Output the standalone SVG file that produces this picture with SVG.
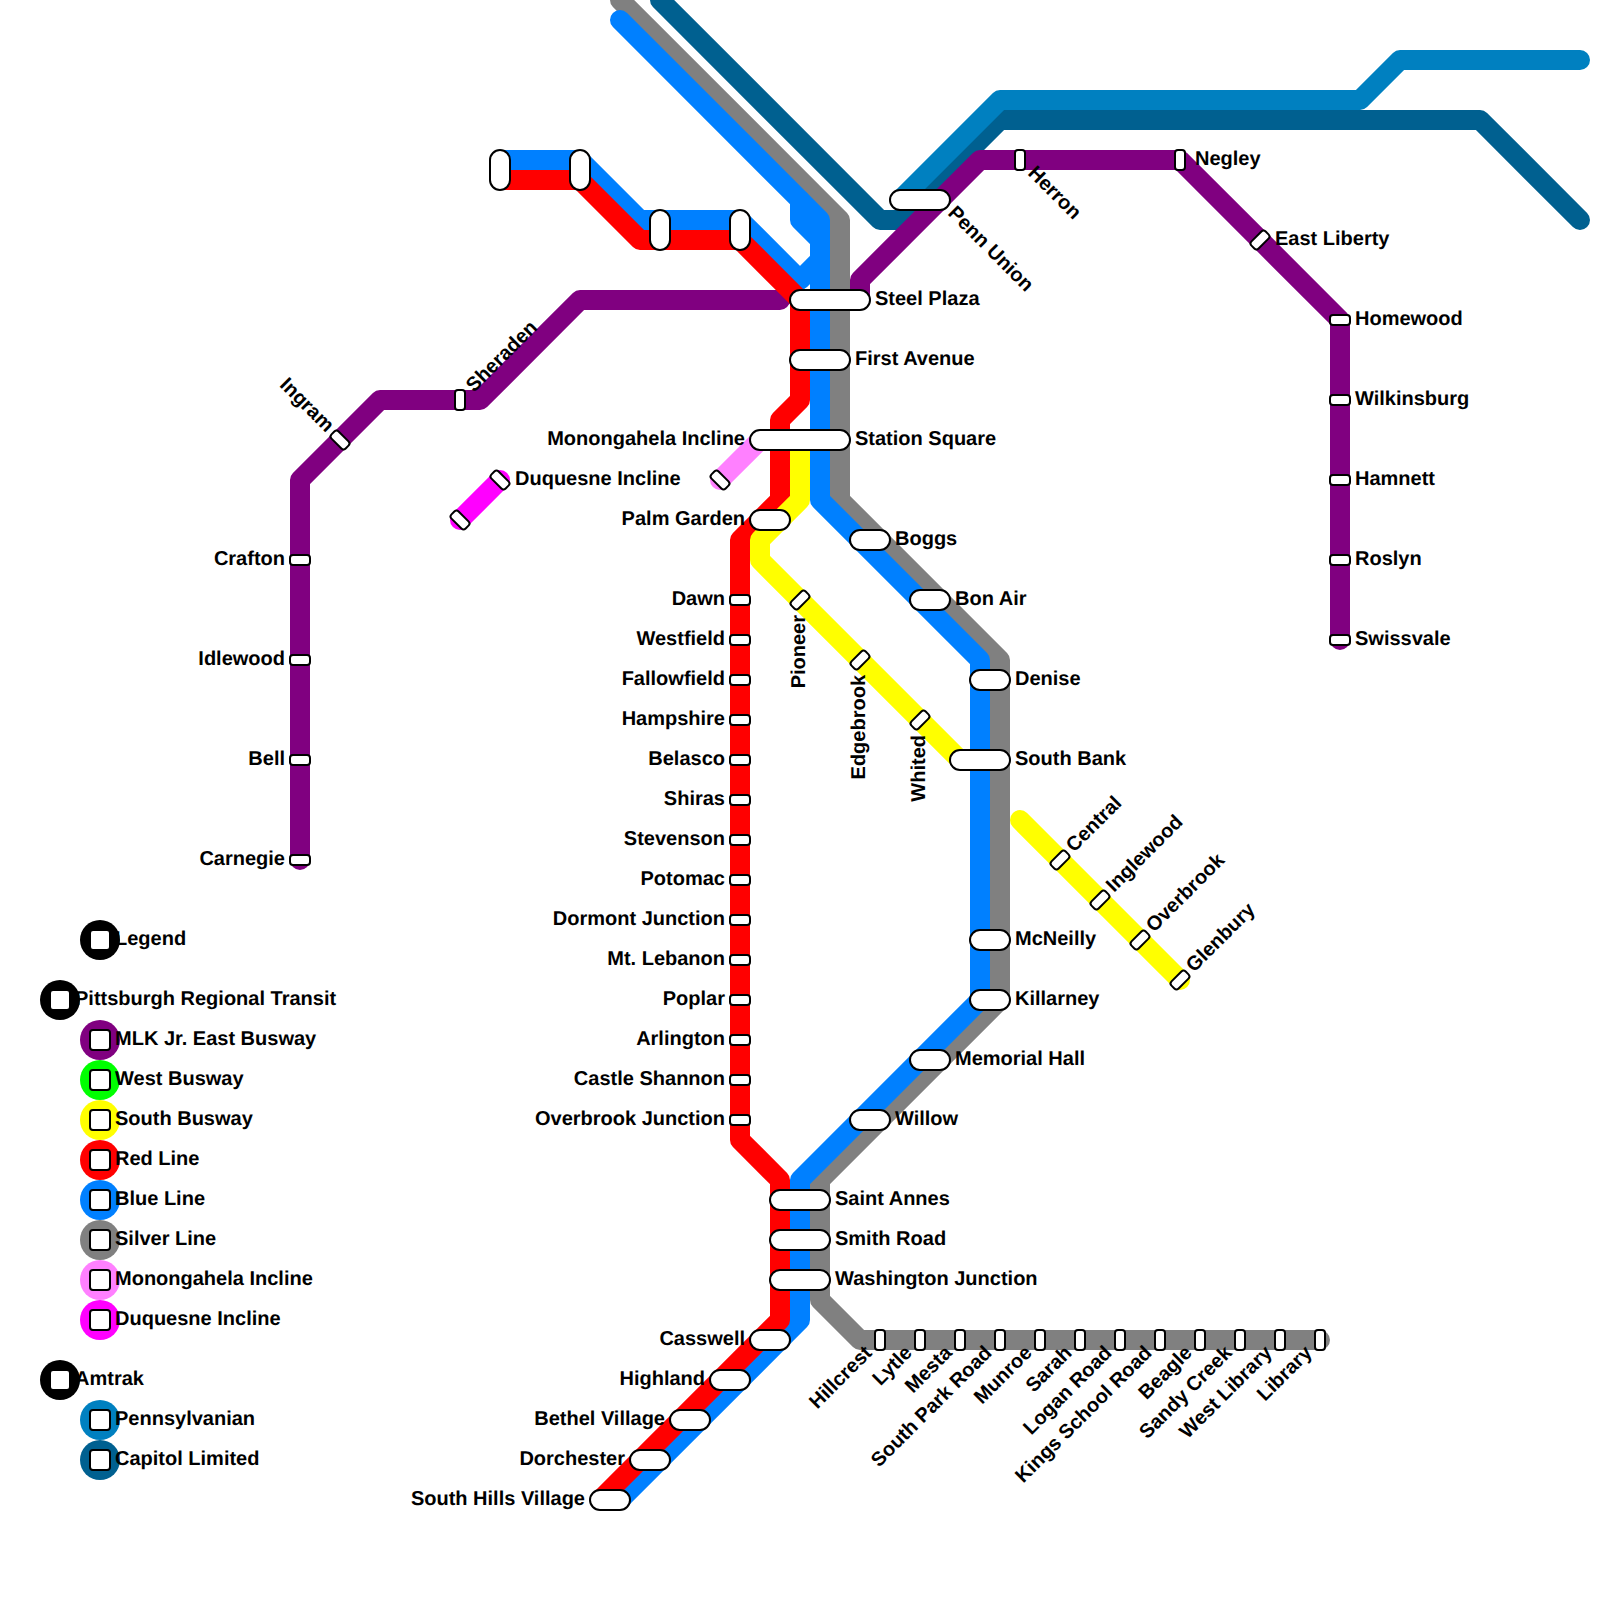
<svg xmlns="http://www.w3.org/2000/svg" width="1600" height="1600" viewBox="0 0 1600 1600">
<style>
text{font-family:"Liberation Sans",Arial,sans-serif;font-size:20px;font-weight:bold;fill:#000;text-rendering:geometricPrecision}
text:not([transform]){transform:translateY(-.5px)}
.e{text-anchor:end}
.l{fill:none;stroke-width:20;stroke-linecap:round;stroke-linejoin:round}
.s{fill:#fff;stroke:#000;stroke-width:2}
.p{fill:#fff;stroke:#000;stroke-width:2}
</style>
<defs>
<rect id="h" class="s" x="-10" y="-5" width="20" height="10" rx="3"/>
<rect id="v" class="s" x="-5" y="-10" width="10" height="20" rx="3"/>
<rect id="k" class="s" x="-10" y="-5" width="20" height="10" rx="3" transform="rotate(45)"/>
<rect id="m" class="s" x="-10" y="-5" width="20" height="10" rx="3" transform="rotate(-45)"/>
<rect id="q" class="s" x="-10" y="-10" width="20" height="20" rx="3"/>
</defs>
<rect width="1600" height="1600" fill="#fff"/>
<g id="connectors">
<polyline class="l" stroke="#006090" points="660,0 880,220 900,220 1000,120 1480,120 1580,220"/>
<polyline class="l" stroke="#808080" points="620,0 840,220 840,500 1000,660 1000,1000 820,1180 820,1300 860,1340 1320,1340"/>
<polyline class="l" stroke="#800080" points="780,300 580,300 480,400 380,400 300,480 300,860"/>
<polyline class="l" stroke="#800080" points="860,300 860,280 980,160 1180,160 1340,320 1340,640"/>
<polyline class="l" stroke="#0080ff" points="620,20 820,220 820,500 980,660 980,1000 800,1180 800,1320 620,1500"/>
<polyline class="l" stroke="#0080ff" points="800,200 800,220 820,240"/>
<polyline class="l" stroke="#0080ff" points="500,160 580,160 640,220 740,220 800,280 820,260"/>
<polyline class="l" stroke="#ff0000" points="500,180 580,180 640,240 740,240 800,300 800,400 780,420 780,500 740,540 740,1140 780,1180 780,1320 600,1500"/>
<polyline class="l" stroke="#ffff00" points="800,440 800,500 760,540 760,560 960,760"/>
<polyline class="l" stroke="#ffff00" points="1020,820 1180,980"/>
<polyline class="l" stroke="#ff80ff" points="720,480 760,440"/>
<polyline class="l" stroke="#ff00ff" points="460,520 500,480"/>
<polyline class="l" stroke="#0080c0" points="1580,60 1400,60 1360,100 1000,100 900,200"/>
</g>
<g id="stations">
<g id="st-top1"><rect class="p" x="490" y="150" width="20" height="40" rx="10"/></g>
<g id="st-top2"><rect class="p" x="570" y="150" width="20" height="40" rx="10"/></g>
<g id="st-top3"><rect class="p" x="650" y="210" width="20" height="40" rx="10"/></g>
<g id="st-top4"><rect class="p" x="730" y="210" width="20" height="40" rx="10"/></g>
<g id="st-penn-union"><rect class="p" x="890" y="190" width="60" height="20" rx="10"/><text transform="translate(947,214) rotate(45)">Penn Union</text></g>
<g id="st-herron"><use href="#v" x="1020" y="160"/><text transform="translate(1027,174) rotate(45)">Herron</text></g>
<g id="st-negley"><use href="#v" x="1180" y="160"/><text x="1195" y="165">Negley</text></g>
<g id="st-east-liberty"><use href="#m" x="1260" y="240"/><text x="1275" y="245">East Liberty</text></g>
<g id="st-homewood"><use href="#h" x="1340" y="320"/><text x="1355" y="325">Homewood</text></g>
<g id="st-wilkinsburg"><use href="#h" x="1340" y="400"/><text x="1355" y="405">Wilkinsburg</text></g>
<g id="st-hamnett"><use href="#h" x="1340" y="480"/><text x="1355" y="485">Hamnett</text></g>
<g id="st-roslyn"><use href="#h" x="1340" y="560"/><text x="1355" y="565">Roslyn</text></g>
<g id="st-swissvale"><use href="#h" x="1340" y="640"/><text x="1355" y="645">Swissvale</text></g>
<g id="st-steel-plaza"><rect class="p" x="790" y="290" width="80" height="20" rx="10"/><text x="875" y="305">Steel Plaza</text></g>
<g id="st-first-avenue"><rect class="p" x="790" y="350" width="60" height="20" rx="10"/><text x="855" y="365">First Avenue</text></g>
<g id="st-station-square"><rect class="p" x="750" y="430" width="100" height="20" rx="10"/><text x="855" y="445">Station Square</text><text class="e" x="745" y="445">Monongahela Incline</text></g>
<g id="st-mon-lower"><use href="#k" x="720" y="480"/></g>
<g id="st-duq-upper"><use href="#k" x="500" y="480"/><text x="515" y="485">Duquesne Incline</text></g>
<g id="st-duq-lower"><use href="#k" x="460" y="520"/></g>
<g id="st-palm-garden"><rect class="p" x="750" y="510" width="40" height="20" rx="10"/><text class="e" x="745" y="525">Palm Garden</text></g>
<g id="st-boggs"><rect class="p" x="850" y="530" width="40" height="20" rx="10"/><text x="895" y="545">Boggs</text></g>
<g id="st-bon-air"><rect class="p" x="910" y="590" width="40" height="20" rx="10"/><text x="955" y="605">Bon Air</text></g>
<g id="st-denise"><rect class="p" x="970" y="670" width="40" height="20" rx="10"/><text x="1015" y="685">Denise</text></g>
<g id="st-south-bank"><rect class="p" x="950" y="750" width="60" height="20" rx="10"/><text x="1015" y="765">South Bank</text></g>
<g id="st-mcneilly"><rect class="p" x="970" y="930" width="40" height="20" rx="10"/><text x="1015" y="945">McNeilly</text></g>
<g id="st-killarney"><rect class="p" x="970" y="990" width="40" height="20" rx="10"/><text x="1015" y="1005">Killarney</text></g>
<g id="st-memorial-hall"><rect class="p" x="910" y="1050" width="40" height="20" rx="10"/><text x="955" y="1065">Memorial Hall</text></g>
<g id="st-willow"><rect class="p" x="850" y="1110" width="40" height="20" rx="10"/><text x="895" y="1125">Willow</text></g>
<g id="st-saint-annes"><rect class="p" x="770" y="1190" width="60" height="20" rx="10"/><text x="835" y="1205">Saint Annes</text></g>
<g id="st-smith-road"><rect class="p" x="770" y="1230" width="60" height="20" rx="10"/><text x="835" y="1245">Smith Road</text></g>
<g id="st-washington-junction"><rect class="p" x="770" y="1270" width="60" height="20" rx="10"/><text x="835" y="1285">Washington Junction</text></g>
<g id="st-casswell"><rect class="p" x="750" y="1330" width="40" height="20" rx="10"/><text class="e" x="745" y="1345">Casswell</text></g>
<g id="st-highland"><rect class="p" x="710" y="1370" width="40" height="20" rx="10"/><text class="e" x="705" y="1385">Highland</text></g>
<g id="st-bethel-village"><rect class="p" x="670" y="1410" width="40" height="20" rx="10"/><text class="e" x="665" y="1425">Bethel Village</text></g>
<g id="st-dorchester"><rect class="p" x="630" y="1450" width="40" height="20" rx="10"/><text class="e" x="625" y="1465">Dorchester</text></g>
<g id="st-south-hills"><rect class="p" x="590" y="1490" width="40" height="20" rx="10"/><text class="e" x="585" y="1505">South Hills Village</text></g>
<g id="st-dawn"><use href="#h" x="740" y="600"/><text class="e" x="725" y="605">Dawn</text></g>
<g id="st-westfield"><use href="#h" x="740" y="640"/><text class="e" x="725" y="645">Westfield</text></g>
<g id="st-fallowfield"><use href="#h" x="740" y="680"/><text class="e" x="725" y="685">Fallowfield</text></g>
<g id="st-hampshire"><use href="#h" x="740" y="720"/><text class="e" x="725" y="725">Hampshire</text></g>
<g id="st-belasco"><use href="#h" x="740" y="760"/><text class="e" x="725" y="765">Belasco</text></g>
<g id="st-shiras"><use href="#h" x="740" y="800"/><text class="e" x="725" y="805">Shiras</text></g>
<g id="st-stevenson"><use href="#h" x="740" y="840"/><text class="e" x="725" y="845">Stevenson</text></g>
<g id="st-potomac"><use href="#h" x="740" y="880"/><text class="e" x="725" y="885">Potomac</text></g>
<g id="st-dormont"><use href="#h" x="740" y="920"/><text class="e" x="725" y="925">Dormont Junction</text></g>
<g id="st-mt-lebanon"><use href="#h" x="740" y="960"/><text class="e" x="725" y="965">Mt. Lebanon</text></g>
<g id="st-poplar"><use href="#h" x="740" y="1000"/><text class="e" x="725" y="1005">Poplar</text></g>
<g id="st-arlington"><use href="#h" x="740" y="1040"/><text class="e" x="725" y="1045">Arlington</text></g>
<g id="st-castle-shannon"><use href="#h" x="740" y="1080"/><text class="e" x="725" y="1085">Castle Shannon</text></g>
<g id="st-overbrook-junction"><use href="#h" x="740" y="1120"/><text class="e" x="725" y="1125">Overbrook Junction</text></g>
<g id="st-pioneer"><use href="#m" x="800" y="600"/><text class="e" transform="translate(805,615) rotate(-90)">Pioneer</text></g>
<g id="st-edgebrook"><use href="#m" x="860" y="660"/><text class="e" transform="translate(865,675) rotate(-90)">Edgebrook</text></g>
<g id="st-whited"><use href="#m" x="920" y="720"/><text class="e" transform="translate(925,735) rotate(-90)">Whited</text></g>
<g id="st-central"><use href="#m" x="1060" y="860"/><text transform="translate(1074,853) rotate(-45)">Central</text></g>
<g id="st-inglewood"><use href="#m" x="1100" y="900"/><text transform="translate(1114,893) rotate(-45)">Inglewood</text></g>
<g id="st-overbrook"><use href="#m" x="1140" y="940"/><text transform="translate(1154,933) rotate(-45)">Overbrook</text></g>
<g id="st-glenbury"><use href="#m" x="1180" y="980"/><text transform="translate(1194,973) rotate(-45)">Glenbury</text></g>
<g id="st-crafton"><use href="#h" x="300" y="560"/><text class="e" x="285" y="565">Crafton</text></g>
<g id="st-idlewood"><use href="#h" x="300" y="660"/><text class="e" x="285" y="665">Idlewood</text></g>
<g id="st-bell"><use href="#h" x="300" y="760"/><text class="e" x="285" y="765">Bell</text></g>
<g id="st-carnegie"><use href="#h" x="300" y="860"/><text class="e" x="285" y="865">Carnegie</text></g>
<g id="st-ingram"><use href="#k" x="340" y="440"/><text class="e" transform="translate(326,433) rotate(45)">Ingram</text></g>
<g id="st-sheraden"><use href="#v" x="460" y="400"/><text transform="translate(474,393) rotate(-45)">Sheraden</text></g>
<g id="st-hillcrest"><use href="#v" x="880" y="1340"/><text class="e" transform="translate(873,1354) rotate(-45)">Hillcrest</text></g>
<g id="st-lytle"><use href="#v" x="920" y="1340"/><text class="e" transform="translate(913,1354) rotate(-45)">Lytle</text></g>
<g id="st-mesta"><use href="#v" x="960" y="1340"/><text class="e" transform="translate(953,1354) rotate(-45)">Mesta</text></g>
<g id="st-south-park"><use href="#v" x="1000" y="1340"/><text class="e" transform="translate(993,1354) rotate(-45)">South Park Road</text></g>
<g id="st-munroe"><use href="#v" x="1040" y="1340"/><text class="e" transform="translate(1033,1354) rotate(-45)">Munroe</text></g>
<g id="st-sarah"><use href="#v" x="1080" y="1340"/><text class="e" transform="translate(1073,1354) rotate(-45)">Sarah</text></g>
<g id="st-logan"><use href="#v" x="1120" y="1340"/><text class="e" transform="translate(1113,1354) rotate(-45)">Logan Road</text></g>
<g id="st-kings"><use href="#v" x="1160" y="1340"/><text class="e" transform="translate(1153,1354) rotate(-45)">Kings School Road</text></g>
<g id="st-beagle"><use href="#v" x="1200" y="1340"/><text class="e" transform="translate(1193,1354) rotate(-45)">Beagle</text></g>
<g id="st-sandy"><use href="#v" x="1240" y="1340"/><text class="e" transform="translate(1233,1354) rotate(-45)">Sandy Creek</text></g>
<g id="st-west-library"><use href="#v" x="1280" y="1340"/><text class="e" transform="translate(1273,1354) rotate(-45)">West Library</text></g>
<g id="st-library"><use href="#v" x="1320" y="1340"/><text class="e" transform="translate(1313,1354) rotate(-45)">Library</text></g>
</g>
<g id="legend">
<g id="lg-legend"><circle cx="100" cy="940" r="20" fill="#000"/><use href="#q" x="100" y="940"/><text x="115" y="945">Legend</text></g>
<g id="lg-prt"><circle cx="60" cy="1000" r="20" fill="#000"/><use href="#q" x="60" y="1000"/><text x="75" y="1005">Pittsburgh Regional Transit</text></g>
<g id="lg-mlk"><circle cx="100" cy="1040" r="20" fill="#800080"/><use href="#q" x="100" y="1040"/><text x="115" y="1045">MLK Jr. East Busway</text></g>
<g id="lg-west"><circle cx="100" cy="1080" r="20" fill="#00ff00"/><use href="#q" x="100" y="1080"/><text x="115" y="1085">West Busway</text></g>
<g id="lg-south"><circle cx="100" cy="1120" r="20" fill="#ffff00"/><use href="#q" x="100" y="1120"/><text x="115" y="1125">South Busway</text></g>
<g id="lg-red"><circle cx="100" cy="1160" r="20" fill="#ff0000"/><use href="#q" x="100" y="1160"/><text x="115" y="1165">Red Line</text></g>
<g id="lg-blue"><circle cx="100" cy="1200" r="20" fill="#0080ff"/><use href="#q" x="100" y="1200"/><text x="115" y="1205">Blue Line</text></g>
<g id="lg-silver"><circle cx="100" cy="1240" r="20" fill="#808080"/><use href="#q" x="100" y="1240"/><text x="115" y="1245">Silver Line</text></g>
<g id="lg-mon"><circle cx="100" cy="1280" r="20" fill="#ff80ff"/><use href="#q" x="100" y="1280"/><text x="115" y="1285">Monongahela Incline</text></g>
<g id="lg-duq"><circle cx="100" cy="1320" r="20" fill="#ff00ff"/><use href="#q" x="100" y="1320"/><text x="115" y="1325">Duquesne Incline</text></g>
<g id="lg-amtrak"><circle cx="60" cy="1380" r="20" fill="#000"/><use href="#q" x="60" y="1380"/><text x="75" y="1385">Amtrak</text></g>
<g id="lg-penn"><circle cx="100" cy="1420" r="20" fill="#0080c0"/><use href="#q" x="100" y="1420"/><text x="115" y="1425">Pennsylvanian</text></g>
<g id="lg-cap"><circle cx="100" cy="1460" r="20" fill="#006090"/><use href="#q" x="100" y="1460"/><text x="115" y="1465">Capitol Limited</text></g>
</g>
</svg>
